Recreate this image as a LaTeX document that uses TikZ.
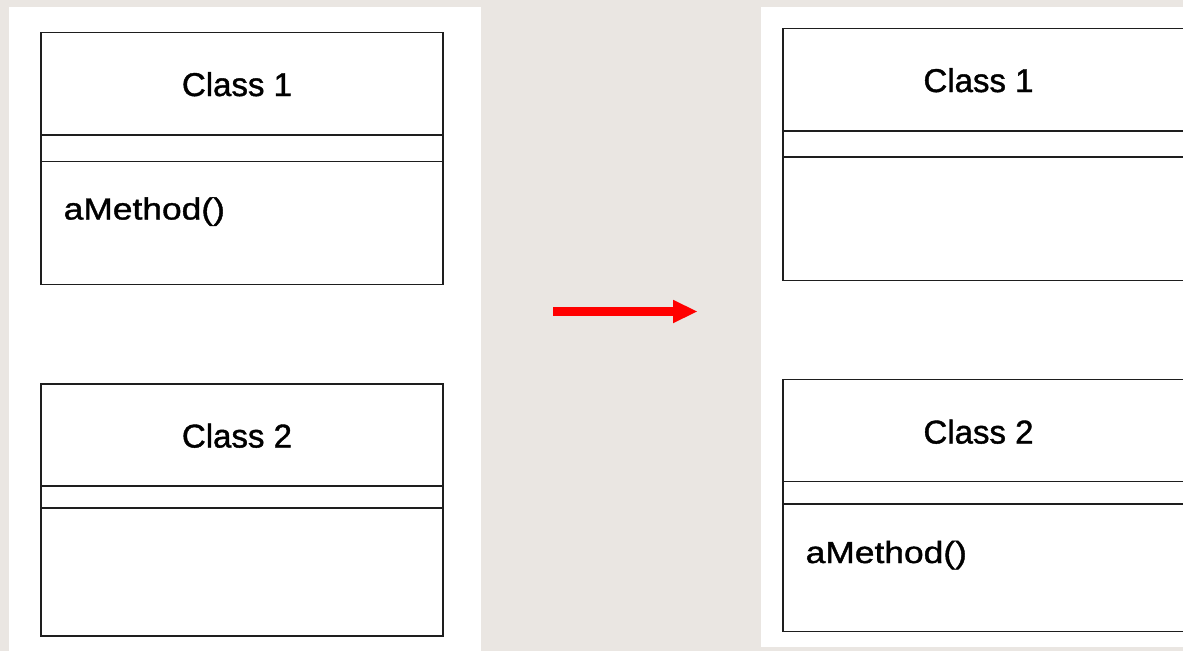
\documentclass[tikz,border=0pt]{standalone}
\usepackage{fontspec}
\setmainfont{Liberation Sans}
\newfontfamily\labelfont{Liberation Sans}[FakeBold=1.2]
\usetikzlibrary{arrows.meta}
\definecolor{paper}{RGB}{234,230,226}
\definecolor{ink}{RGB}{30,30,30}
\tikzset{
  umlbox/.style={draw=ink, line width=1.8pt, fill=white, anchor=north west,
    minimum width=402pt, minimum height=252pt, inner sep=0pt, outer sep=0pt},
  divider/.style={draw=ink, line width=1.8pt},
  classname/.style={inner sep=0pt, anchor=base, font=\labelfont\fontsize{33}{33}\selectfont},
  opname/.style={inner sep=0pt, anchor=base west, font=\labelfont\fontsize{30.5}{31}\selectfont},
  movearrow/.style={draw=red, line width=8.5pt,
    -{Triangle[length=24pt, width=23.5pt, line width=0pt]}},
}
\newcommand{\widetext}[2]{\scalebox{#1}[1]{#2}}
\begin{document}
\begin{tikzpicture}[x=1pt, y=-1pt]
  \useasboundingbox (0,0) rectangle (1183,651);
  \clip (0,0) rectangle (1183,651);
  \fill[paper] (0,0) rectangle (1183,651);
  % two white sheets
  \fill[white] (9,7) rectangle (481,660);
  \fill[white] (761,7) rectangle (1200,647);

  % ---- before: method in Class 1 ----
  \node[umlbox] (L1) at (41,32.5) {};
  \draw[divider] (41,135) -- (443,135);
  \draw[divider] (41,161.5) -- (443,161.5);
  \node[classname] (L1name) at (237,96) {\widetext{1.0}{Class 1}};
  \node[opname] (L1op) at (63.5,219.5) {\widetext{1.16}{aMethod()}};

  \node[umlbox] (L2) at (41,384) {};
  \draw[divider] (41,485.7) -- (443,485.7);
  \draw[divider] (41,508.3) -- (443,508.3);
  \node[classname] (L2name) at (237,447.5) {\widetext{1.0}{Class 2}};

  % ---- after: method moved to Class 2 ----
  \node[umlbox] (R1) at (782.7,28.5) {};
  \draw[divider] (782.7,131) -- (1190,131);
  \draw[divider] (782.7,156.7) -- (1190,156.7);
  \node[classname] (R1name) at (978.5,92) {\widetext{1.0}{Class 1}};

  \node[umlbox] (R2) at (782.7,379.5) {};
  \draw[divider] (782.7,481.5) -- (1190,481.5);
  \draw[divider] (782.7,504) -- (1190,504);
  \node[classname] (R2name) at (978.5,443.5) {\widetext{1.0}{Class 2}};
  \node[opname] (R2op) at (805.5,563) {\widetext{1.16}{aMethod()}};

  % refactoring arrow
  \coordinate (from) at (553,311.5);
  \coordinate (to) at (697,311.5);
  \draw[movearrow] (from) -- (to);
\end{tikzpicture}
\end{document}
